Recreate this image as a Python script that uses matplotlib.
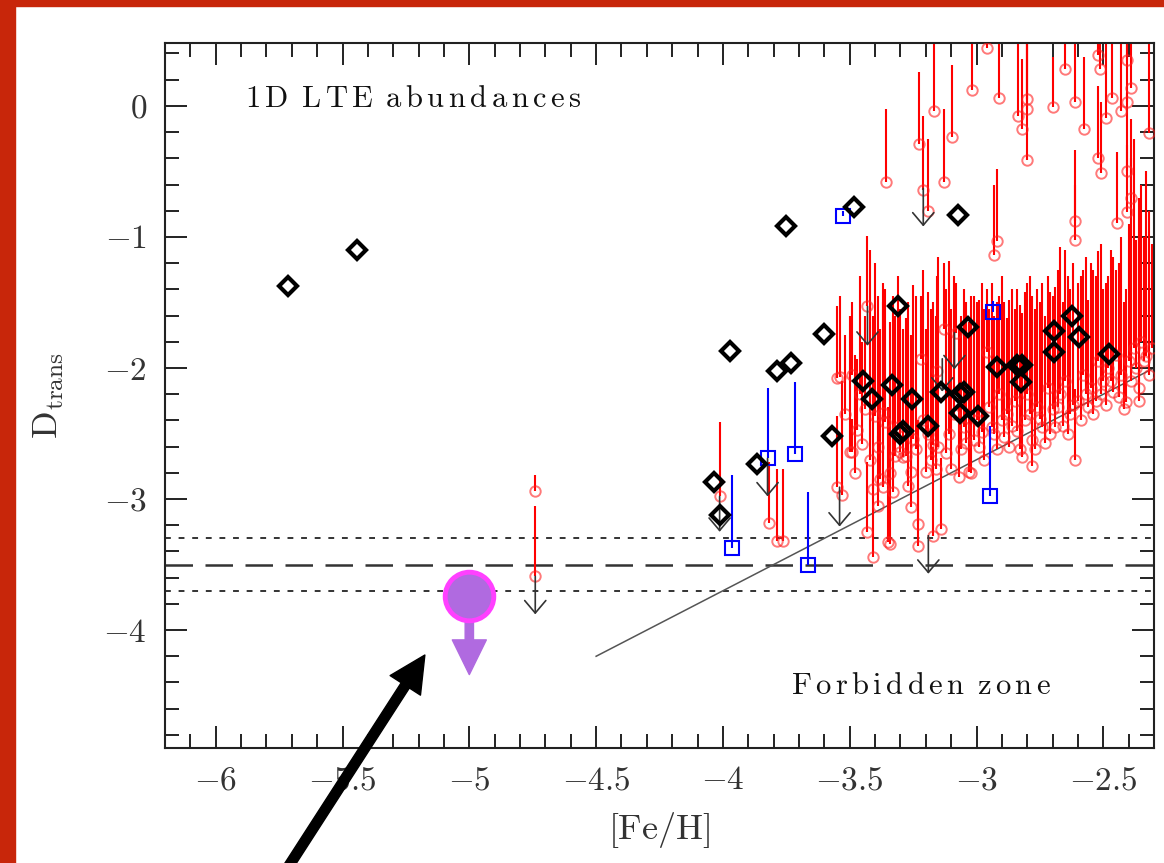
import matplotlib
matplotlib.use('Agg')
import matplotlib.pyplot as plt
from matplotlib.patches import Rectangle, FancyArrowPatch
from matplotlib.ticker import MultipleLocator

plt.rcParams['mathtext.fontset'] = 'cm'
plt.rcParams['font.family'] = ['cmr10', 'DejaVu Serif']

# --- data -----------------------------------------------------------------
# black diamonds
diam_feh = [-5.716, -5.444, -3.753, -3.485, -3.075, -3.974, -3.60, -3.785, -3.733, -3.31,
            -3.032, -2.693, -2.622, -2.594, -2.693, -2.476, -2.918, -2.84, -2.82, -2.823,
            -3.446, -3.414, -3.335, -3.253, -3.30, -3.29, -3.19, -3.142, -3.067, -3.048,
            -3.067, -2.996, -3.568, -3.864, -4.037, -4.013]
diam_d = [-1.377, -1.10, -0.92, -0.77, -0.83, -1.87, -1.74, -2.02, -1.96, -1.53,
          -1.69, -1.72, -1.60, -1.76, -1.88, -1.89, -1.99, -1.98, -1.98, -2.11,
          -2.10, -2.24, -2.13, -2.24, -2.50, -2.48, -2.44, -2.18, -2.20, -2.18,
          -2.34, -2.37, -2.52, -2.73, -2.87, -3.12]

# blue squares with their upper ranges
blue_feh = [-3.525, -2.937, -3.824, -3.714, -3.966, -3.663, -2.945]
blue_d = [-0.84, -1.57, -2.69, -2.66, -3.37, -3.50, -2.98]
blue_top = [-0.80, -1.49, -2.15, -2.11, -2.82, -2.95, -2.44]

# red circles, upper group (most ranges run off the top)
up_feh = [-3.355, -3.166, -3.225, -3.21, -3.19, -3.13, -3.095, -3.016, -2.96, -2.91,
          -2.835, -2.82, -2.80, -2.80, -2.80, -2.70, -2.65, -2.61, -2.575, -2.52,
          -2.515, -2.52, -2.51, -2.49, -2.465, -2.43, -2.405, -2.39, -2.405, -2.405,
          -2.39, -2.405, -2.445, -2.32, -2.61, -2.61, -2.92, -2.93]
up_d = [-0.58, -0.04, -0.29, -0.64, -0.80, -0.58, -0.24, 0.12, 0.44, 0.06,
        -0.08, -0.18, 0.05, -0.02, -0.41, -0.01, 0.28, 0.03, -0.18, 0.39,
        0.28, -0.40, -0.51, -0.09, 0.06, -0.04, 0.35, 0.14, 0.03, -0.50,
        -0.70, -0.81, -0.89, -0.21, -0.88, -1.02, -1.03, -1.14]
up_top = [-0.02, 0.6, 0.26, -0.08, -0.25, -0.02, 0.31, 0.6, 0.6, 0.6,
          0.6, 0.36, 0.6, 0.6, 0.6, 0.37, 0.6, 0.6, 0.37, 0.6,
          0.6, 0.15, 0.03, 0.6, 0.6, 0.6, 0.6, 0.6, 0.6, 0.10,
          -0.10, -0.30, -0.35, 0.6, -0.34, -0.60, -0.48, -0.60]

# red circles, the dense band
band_feh = [-3.55, -3.49, -3.50, -3.47, -3.55, -3.53, -3.43, -3.41, -3.39, -3.37,
            -3.35, -3.33, -3.43, -3.40, -3.44, -3.45, -3.38, -3.36, -3.37, -3.32,
            -3.30, -3.29, -3.28, -3.26, -3.26, -3.25, -3.23, -3.23, -3.22, -3.20,
            -3.19, -3.17, -3.17, -3.16, -3.155, -3.15, -3.14, -3.13, -3.11, -3.10,
            -3.08, -3.07, -3.05, -3.04, -3.03, -3.02, -3.00, -2.99, -2.98, -2.96,
            -2.95, -2.93, -2.91, -2.89, -2.88, -2.86, -2.85, -2.83, -2.82, -2.81,
            -2.80, -2.78, -2.78, -2.76, -2.75, -2.73, -2.72, -2.70, -2.69, -2.67,
            -2.66, -2.65, -2.63, -2.61, -2.60, -2.58, -2.56, -2.55, -2.53, -2.52,
            -2.50, -2.48, -2.46, -2.45, -2.43, -2.42, -2.41, -2.40, -2.39, -2.38,
            -2.37, -2.36, -2.35, -2.34, -2.33, -2.32, -2.31, -3.34, -3.49, -3.41,
            -3.54, -3.52, -3.48, -3.46, -3.42, -3.39, -3.34, -3.31, -3.27, -3.24,
            -3.21, -3.18, -3.12, -3.09, -3.06, -3.01, -2.97, -2.94, -2.92, -2.90,
            -2.87, -2.84, -2.79, -2.77, -2.74, -2.71, -2.68, -2.64, -2.62, -2.59,
            -2.57, -2.54, -2.51, -2.49, -2.47, -2.44, -2.36]
band_d = [-2.08, -2.05, -2.64, -2.47, -2.91, -2.97, -3.25, -3.44, -3.05, -2.91,
          -3.33, -2.95, -1.53, -2.37, -2.31, -2.58, -2.85, -2.41, -2.34, -2.67,
          -2.64, -2.68, -2.67, -2.79, -3.06, -2.54, -3.19, -3.36, -1.93, -2.79,
          -2.50, -3.28, -2.59, -2.77, -2.02, -2.60, -3.23, -1.70, -2.50, -2.77,
          -1.73, -2.83, -2.45, -2.57, -2.79, -2.80, -2.40, -2.60, -2.49, -1.88,
          -2.30, -2.50, -2.20, -2.53, -2.35, -2.44, -2.25, -2.62, -2.68, -2.40,
          -2.20, -2.75, -2.55, -2.30, -2.39, -2.57, -2.15, -2.31, -2.45, -2.20,
          -2.44, -2.10, -2.35, -2.70, -2.25, -2.05, -2.30, -2.15, -2.25, -1.95,
          -2.10, -2.00, -2.18, -1.90, -2.05, -2.31, -2.26, -1.95, -2.10, -1.85,
          -2.00, -2.15, -1.80, -1.95, -1.91, -2.05, -1.85, -3.34, -2.64, -2.92,
          -2.07, -2.35, -2.80, -2.20, -2.70, -2.60, -2.80, -2.45, -2.90, -2.62,
          -2.40, -2.70, -2.65, -2.35, -2.62, -2.55, -2.70, -2.45, -2.62, -2.40,
          -2.60, -2.48, -2.35, -2.62, -2.45, -2.50, -2.30, -2.50, -2.28, -2.40,
          -2.20, -2.35, -2.20, -2.28, -2.10, -2.22, -2.25]
band_top = [-1.53, -1.50, -1.60, -1.93, -2.37, -2.10, -2.72, -2.85, -2.52, -1.35,
            -2.30, -1.45, -0.99, -1.20, -1.60, -1.80, -1.70, -1.40, -1.50, -1.60,
            -1.55, -1.70, -1.62, -1.75, -2.10, -1.37, -2.40, -2.92, -1.45, -1.70,
            -1.42, -2.60, -1.50, -1.60, -1.30, -1.15, -2.69, -1.20, -1.18, -1.55,
            -1.35, -1.70, -1.40, -1.50, -1.65, -1.45, -1.50, -1.48, -1.35, -1.40,
            -1.55, -1.60, -1.45, -1.50, -1.62, -1.40, -1.55, -1.52, -1.58, -1.42,
            -1.35, -1.65, -1.45, -1.40, -1.50, -1.60, -1.30, -1.45, -1.38, -1.08,
            -1.50, -1.10, -1.40, -2.16, -1.35, -1.25, -1.48, -1.20, -1.30, -1.11,
            -1.40, -1.30, -1.15, -1.25, -1.00, -1.50, -1.40, -0.90, -0.40, -0.25,
            -1.02, -0.70, -0.60, -1.00, -0.50, -0.80, -1.05, -2.24, -2.39, -1.60,
            -1.45, -1.75, -1.90, -1.30, -1.10, -1.45, -1.65, -1.30, -1.50, -1.45,
            -1.25, -1.55, -1.40, -1.30, -1.60, -1.45, -1.55, -1.35, -1.50, -1.30,
            -1.48, -1.40, -1.30, -1.55, -1.35, -1.42, -1.25, -1.30, -1.20, -1.30,
            -1.15, -1.25, -1.05, -1.35, -1.10, -1.20, -1.00]

# red circles, isolated ones on the metal-poor side
lone_feh = [-4.01, -3.82, -3.785, -3.765, -4.74, -4.74]
lone_d = [-2.98, -3.18, -3.32, -3.32, -2.94, -3.59]
lone_top = [-2.41, -2.72, -2.77, -2.77, -2.82, -3.05]

# upper limits (black arrows): start and end
lim_feh = [-3.21, -3.43, -3.087, -3.135, -3.824, -4.013, -3.54, -3.19, -4.74]
lim_top = [-0.63, -1.53, -1.73, -1.93, -2.69, -2.98, -2.91, -3.28, -3.59]
lim_bot = [-0.92, -1.83, -2.01, -2.18, -2.98, -3.25, -3.21, -3.57, -3.88]

# highlighted star (upper limit)
star_feh = -5.0
star_d = -3.74
star_tip = -4.34

# reference lines
crit_d = -3.5
crit_band = [-3.3, -3.7]
zone_feh = [-4.5, -2.3]
zone_d = [-4.2, -2.0]

xtick_vals = [-6, -5.5, -5, -4.5, -4, -3.5, -3, -2.5]
ytick_vals = [0, -1, -2, -3, -4]
xtick_labels = ['$%g$' % v for v in xtick_vals]
ytick_labels = ['$%g$' % v for v in ytick_vals]


def spaced(s):
    # letter-spaced roman text, like the original plotting package
    words = s.split(' ')
    body = r'\ \,'.join(r'\,'.join(w) for w in words)
    return r'$\mathrm{' + body + '}$'


# --- figure ---------------------------------------------------------------
fig = plt.figure(figsize=(11.64, 8.63), dpi=100)
border = '#c8260a'
fig.add_artist(Rectangle((0, 0), 15 / 1164, 1, transform=fig.transFigure,
                         color=border, zorder=0))
fig.add_artist(Rectangle((0, 1 - 6 / 863), 1, 6 / 863, transform=fig.transFigure,
                         color=border, zorder=0))

ax = fig.add_axes([0.14175, 0.13326, 0.8497, 0.8169])
ax.set_xlim(-6.2, -2.3)
ax.set_ylim(-4.9, 0.48)

# reference lines
ax.axhline(crit_d, color='#333333', lw=1.8, ls=(0, (11, 5)), zorder=1)
for yv in crit_band:
    ax.axhline(yv, color='#333333', lw=1.4, ls=(0, (3, 4)), zorder=1)
ax.plot(zone_feh, zone_d, color='#555555', lw=1.1, zorder=1)

# red points with their ranges
red_feh = up_feh + band_feh + lone_feh
red_d = up_d + band_d + lone_d
red_top = up_top + band_top + lone_top
ax.vlines(red_feh, red_d, red_top, colors='#ff0000', lw=1.5, zorder=2)
ax.plot(red_feh, red_d, 'o', mfc='none', mec='#ff2020', ms=7.5, mew=1.4,
        alpha=0.6, ls='none', zorder=3)

# blue squares
ax.vlines(blue_feh, blue_d, blue_top, colors='#0000ff', lw=1.5, zorder=4)
ax.plot(blue_feh, blue_d, 's', mfc='none', mec='#0000ff', ms=9.5, mew=1.5,
        ls='none', zorder=4)

# upper limit arrows
for xv, y0, y1 in zip(lim_feh, lim_top, lim_bot):
    ax.annotate('', xy=(xv, y1), xytext=(xv, y0),
                arrowprops=dict(arrowstyle='->,head_length=0.45,head_width=0.38',
                                color='#333333', lw=1.2, shrinkA=0, shrinkB=0,
                                mutation_scale=20), zorder=5)

# black diamonds
ax.plot(diam_feh, diam_d, 'D', mfc='none', mec='black', ms=9, mew=3,
        ls='none', zorder=6)

# highlighted star
ax.add_patch(FancyArrowPatch((star_feh, star_d - 0.05), (star_feh, star_tip),
                             arrowstyle='simple,head_length=2.5,head_width=2.45,tail_width=0.6',
                             mutation_scale=10, color='#b06ae0', shrinkA=0, shrinkB=0,
                             zorder=7, clip_on=False))
ax.plot([star_feh], [star_d], 'o', mfc='#b06ae0', mec='#ff40ff', ms=35, mew=3.5,
        zorder=8, clip_on=False)

# texts
ax.text(0.081, 0.909, spaced('1D LTE abundances'), transform=ax.transAxes,
        fontsize=22, va='baseline', ha='left', color='#111111')
ax.text(0.633, 0.0766, spaced('Forbidden zone'), transform=ax.transAxes,
        fontsize=22, va='baseline', ha='left', color='#111111')

# axes styling
ax.set_xticks(xtick_vals)
ax.set_xticklabels(xtick_labels)
ax.set_yticks(ytick_vals)
ax.set_yticklabels(ytick_labels)
ax.xaxis.set_minor_locator(MultipleLocator(0.1))
ax.yaxis.set_minor_locator(MultipleLocator(0.2))
ax.tick_params(which='both', direction='in', top=True, right=True,
               width=1.4, color='#222222', labelcolor='#333333')
ax.tick_params(which='major', length=16, labelsize=24)
ax.tick_params(which='minor', length=10)
ax.tick_params(axis='x', which='major', pad=13)
ax.tick_params(axis='y', which='major', pad=13)
for sp in ax.spines.values():
    sp.set_linewidth(1.5)
    sp.set_color('#222222')

ax.set_xlabel(r'$\mathrm{[Fe/H]}$', fontsize=26, color='#333333')
ax.xaxis.set_label_coords(0.5, -0.088)
ax.set_ylabel(r'$\mathrm{D_{trans}}$', fontsize=26, color='#333333')
ax.yaxis.set_label_coords(-0.10, 0.5)

# pointer arrow drawn over the figure
fig.add_artist(FancyArrowPatch((0.245, -0.01), (0.365, 0.241),
                               transform=fig.transFigure,
                               arrowstyle='simple,head_length=2.6,head_width=2.6,tail_width=0.7',
                               mutation_scale=10, color='black', shrinkA=0, shrinkB=0,
                               zorder=10))

fig.savefig('out.png', dpi=100)
